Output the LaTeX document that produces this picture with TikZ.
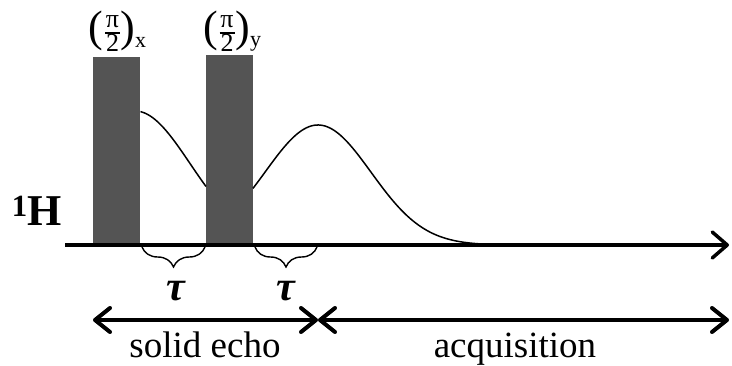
\documentclass[tikz,border=0pt]{standalone}
\usepackage{fontspec}
\setmainfont{Liberation Serif}
\usetikzlibrary{arrows.meta,decorations.pathreplacing}
\begin{document}
\begin{tikzpicture}[x=1pt,y=-1pt,
  pulse/.style={fill=black!67,draw=none,inner sep=0pt,minimum width=47pt},
  axisline/.style={line width=3.5pt,-{Straight Barb[length=15pt,width=26pt,line width=3.5pt,round]}},
  span/.style={line width=4pt,{Straight Barb[length=15pt,width=24pt,line width=4pt,round]}-{Straight Barb[length=15pt,width=24pt,line width=4pt,round]}},
  brc/.style={decorate,decoration={brace,amplitude=20pt,mirror},line width=1.4pt},
  fid/.style={line width=1.5pt},
  lbl/.style={inner sep=0pt,font=\fontsize{37}{40}\selectfont},
  paren/.style={inner sep=0pt,font=\fontsize{44}{44}\selectfont},
  fracpart/.style={inner sep=0pt,font=\fontsize{26}{26}\selectfont},
  sub/.style={inner sep=0pt,font=\fontsize{22}{22}\selectfont},
  fracbar/.style={line width=1.1pt},
  tlbl/.style={inner sep=0pt,font=\bfseries\itshape\fontsize{42}{44}\selectfont}
]
\useasboundingbox (0,0) rectangle (732,365);
% pulses
\node[pulse,minimum height=188pt,anchor=south west] (p1) at (93,245) {};
\node[pulse,minimum height=190pt,anchor=south west] (p2) at (206,245) {};
% axis
\coordinate (a0) at (65,245);
\coordinate (a1) at (729,245);
\draw[axisline] (a0) -- (a1);
% FID curves
\draw[fid] plot[domain=140.5:206,samples=60] ({\x},{245-134*exp(-((\x-135)/78)^2)});
\draw[fid] plot[domain=253:490,samples=120] ({\x},{245-120*exp(-((\x-318)/75)^2)});
% pulse label 1: (pi/2)_x
\node[paren] (l1o) at (96,31) {(};
\node[fracpart] (l1n) at (112.5,22) {π};
\node[fracpart] (l1d) at (112.5,42.5) {2};
\coordinate (l1a) at (105,33);
\coordinate (l1b) at (120,33);
\draw[fracbar] (l1a) -- (l1b);
\node[paren] (l1c) at (128,31) {)};
\node[sub] (l1s) at (140.5,42) {x};
% pulse label 2: (pi/2)_y
\node[paren] (l2o) at (211,31) {(};
\node[fracpart] (l2n) at (227,22) {π};
\node[fracpart] (l2d) at (227,42.5) {2};
\coordinate (l2a) at (219.5,33);
\coordinate (l2b) at (234.5,33);
\draw[fracbar] (l2a) -- (l2b);
\node[paren] (l2c) at (243,31) {)};
\node[sub] (l2s) at (255.5,44) {y};
% nucleus
\node[inner sep=0pt,font=\bfseries\fontsize{44}{48}\selectfont] (h) at (37,211) {\textsuperscript{1}H};
% braces
\coordinate (b1s) at (142,247);
\coordinate (b1e) at (205,247);
\coordinate (b2s) at (255,247);
\coordinate (b2e) at (317,247);
\draw[brc] (b1s) -- (b1e);
\draw[brc] (b2s) -- (b2e);
\node[tlbl] (t1) at (176,291) {τ};
\node[tlbl] (t2) at (286,291) {τ};
% spans
\coordinate (s0) at (93,320);
\coordinate (s1) at (318,320);
\coordinate (s2) at (729,320);
\draw[span] (s0) -- (s1);
\draw[span] (s1) -- (s2);
\node[lbl,anchor=base] (se) at (205,357) {solid echo};
\node[lbl,anchor=base] (aq) at (515,357) {acquisition};
\end{tikzpicture}
\end{document}
